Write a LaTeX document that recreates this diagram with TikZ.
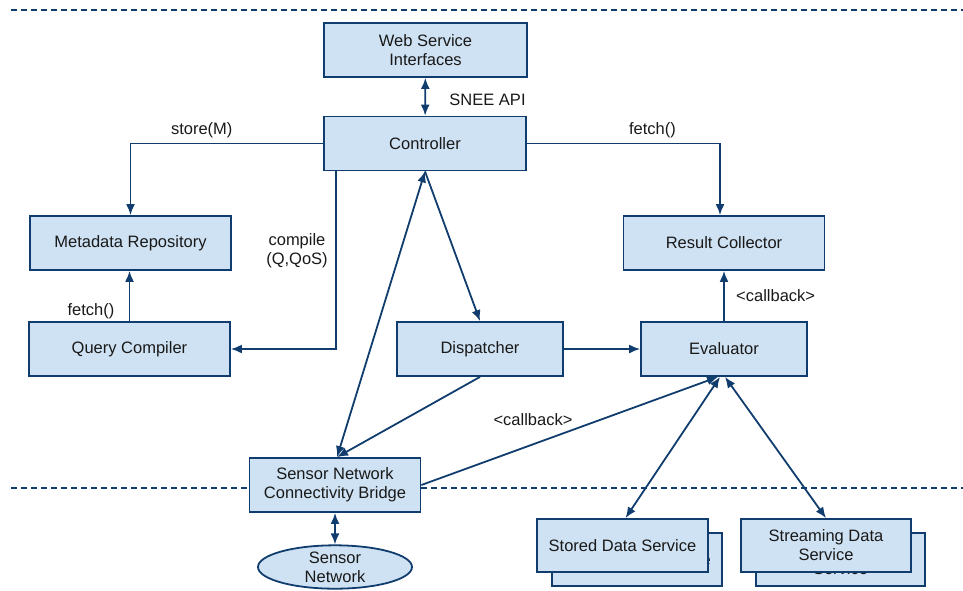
\documentclass[tikz,border=0pt]{standalone}
\usepackage{fontspec}
\setmainfont{Liberation Sans}
\usetikzlibrary{arrows.meta,shapes.geometric}
\definecolor{boxblue}{RGB}{207,226,243}
\definecolor{lineblue}{RGB}{16,61,110}
\begin{document}
\begin{tikzpicture}[x=1pt,y=-1pt,line width=1.8pt,
  every node/.style={font=\fontsize{16.5}{19}\selectfont,text=black!90,align=center},
  box/.style={draw=lineblue,fill=boxblue,minimum height=54pt,inner sep=0pt},
  link/.style={draw=lineblue,-{Latex[length=11pt,width=9pt]}},
  both/.style={draw=lineblue,{Latex[length=11pt,width=9pt]}-{Latex[length=11pt,width=9pt]}},
  sep/.style={draw=lineblue,line width=1.8pt,dash pattern=on 6pt off 4pt}]
\useasboundingbox (0,0) rectangle (963,590);
\draw[sep] (11,10) -- (963,10);
\draw[sep] (11,488) -- (963,488);
\node[box,minimum width=203pt] (web) at (425.5,50) {Web Service\\Interfaces};
\node[box,minimum width=202pt] (ctrl) at (425,143.5) {Controller};
\node[box,minimum width=201pt] (meta) at (130.5,243) {Metadata Repository};
\node[box,minimum width=201pt] (rc) at (724,243) {Result Collector};
\node[box,minimum width=201pt] (qc) at (129.5,349) {Query Compiler};
\node[box,minimum width=166pt] (disp) at (480,349) {Dispatcher};
\node[box,minimum width=166pt] (eval) at (724,349) {Evaluator};
\node[box,minimum width=171pt] (bridge) at (335,485) {Sensor Network\\Connectivity Bridge};
\node[draw=lineblue,fill=boxblue,ellipse,minimum width=154pt,minimum height=42pt,inner sep=0pt] (sn) at (335,567) {Sensor\\Network};
\node[box,minimum width=170pt,minimum height=53pt] (storedback) at (637,559.5) {Stored Data Service};
\node[box,minimum width=171pt,minimum height=53pt] (stored) at (622.5,545.5) {Stored Data Service};
\node[box,minimum width=169pt,minimum height=53pt] (streamback) at (840.5,559.5) {Streaming Data\\Service};
\node[box,minimum width=170pt,minimum height=53pt] (stream) at (826,545.5) {Streaming Data\\Service};
\draw[both] (web) -- (ctrl) node[midway,right=20pt,yshift=-3pt] {SNEE API};
\draw[link] (ctrl.west) -| (meta.north) node[pos=0.315,above=1pt] {store(M)};
\draw[link] (ctrl.east) -| ([xshift=-4pt]rc.north) node[pos=0.325,above=1pt] {fetch()};
\draw[link] ([xshift=-89pt]ctrl.south) |- (qc.east);
\node (complbl) at (297,251) {compile\\(Q,QoS)};
\draw[link] (qc.north) -- (qc.north |- meta.south) node[pos=0.2,left=11pt] {fetch()};
\draw[both] (ctrl.south) -- ([xshift=2pt]bridge.north);
\draw[link] (ctrl.south) -- (disp.north);
\draw[link] (disp.south) -- ([xshift=2pt]bridge.north);
\draw[link] (disp.east) -- (eval.west);
\draw[link] (eval.north) -- (rc.south) node[midway,right=8pt] {<callback>};
\draw[link] (bridge.east) -- ([xshift=-6pt]eval.south);
\node (cblbl) at (533,420) {<callback>};
\draw[both] ([xshift=-4pt]eval.south) -- ([xshift=3pt]stored.north);
\draw[both] ([xshift=1pt]eval.south) -- (stream.north);
\draw[both] (bridge) -- (sn);
\end{tikzpicture}
\end{document}
